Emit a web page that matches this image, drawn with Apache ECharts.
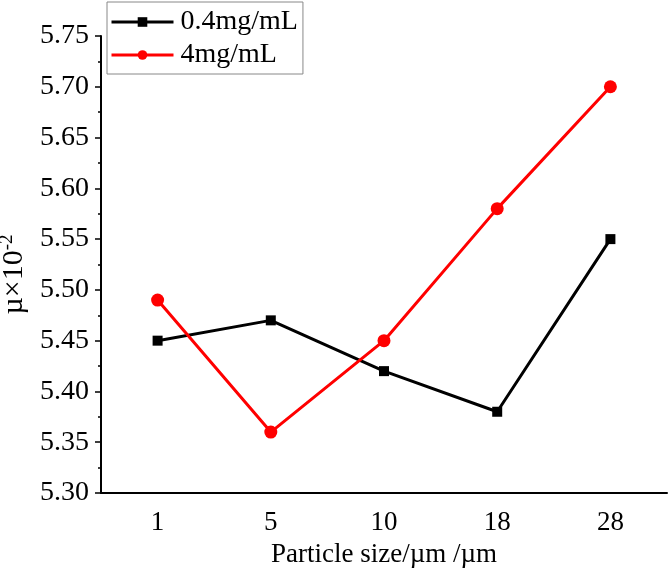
<!DOCTYPE html>
<html>
<head>
<meta charset="utf-8">
<script src="https://cdn.jsdelivr.net/npm/echarts@6/dist/echarts.min.js"></script>
<style>
  html, body { margin: 0; padding: 0; background: #fff; }
  #chart { width: 670px; height: 570px; }
</style>
</head>
<body>
<div id="chart"></div>
<script>
const sizes = ["1", "5", "10", "18", "28"];
const low = [5.45, 5.47, 5.42, 5.38, 5.55];   // 0.4mg/mL
const high = [5.49, 5.36, 5.45, 5.58, 5.70];  // 4mg/mL
const yTicks = [5.30, 5.35, 5.40, 5.45, 5.50, 5.55, 5.60, 5.65, 5.70, 5.75];

const font = '"Times New Roman", "Liberation Serif", serif';
const chart = echarts.init(document.getElementById("chart"));

chart.setOption({
  animation: false,
  grid: { left: 101, right: 3, top: 36, bottom: 77, outerBoundsMode: "none", containLabel: false },
  legend: {
    left: 107,
    top: 2,
    orient: "vertical",
    padding: [6, 5, 5, 3],
    itemGap: 5,
    itemWidth: 62,
    itemHeight: 12,
    borderColor: "#888",
    borderWidth: 1,
    lineStyle: { width: 3 },
    textStyle: { fontFamily: font, fontSize: 28, color: "#000", lineHeight: 28, padding: [0, 0, 0, 2] },
    data: ["0.4mg/mL", "4mg/mL"]
  },
  xAxis: [
    {
      type: "category",
      data: sizes,
      boundaryGap: true,
      name: "Particle size/µm /µm",
      nameLocation: "middle",
      nameGap: 48,
      nameTextStyle: { fontFamily: font, fontSize: 27, color: "#000" },
      axisLine: { lineStyle: { color: "#000", width: 2 } },
      axisTick: { alignWithLabel: true, length: 8, lineStyle: { color: "#000", width: 1.5 } },
      axisLabel: { fontFamily: font, fontSize: 27, color: "#000", margin: 16 },
      splitLine: { show: false }
    },
    {
      type: "category",
      data: sizes,
      boundaryGap: true,
      position: "bottom",
      axisLine: { show: false },
      axisTick: { length: 4, lineStyle: { color: "#000", width: 1.5 } },
      axisLabel: { show: false },
      splitLine: { show: false }
    }
  ],
  yAxis: {
    type: "value",
    min: yTicks[0],
    max: yTicks[yTicks.length - 1],
    interval: 0.05,
    name: "{a|µ×10}{s|-2}",
    nameLocation: "middle",
    nameGap: 55,
    nameTextStyle: {
      fontFamily: font, color: "#000", padding: [0, 20, 0, 0],
      rich: {
        a: { fontFamily: font, fontSize: 30, color: "#000" },
        s: { fontFamily: font, fontSize: 19, color: "#000", padding: [0, 0, 14, 0] }
      }
    },
    axisLine: { show: true, lineStyle: { color: "#000", width: 2 } },
    axisTick: { show: true, length: 6, lineStyle: { color: "#000", width: 1.5 } },
    minorTick: { show: true, splitNumber: 2, length: 3, lineStyle: { color: "#000", width: 1.5 } },
    axisLabel: {
      fontFamily: font, fontSize: 28, color: "#000", margin: 12,
      formatter: v => v.toFixed(2)
    },
    splitLine: { show: false }
  },
  series: [
    {
      name: "0.4mg/mL",
      type: "line",
      data: low,
      symbol: "rect",
      symbolSize: 10,
      itemStyle: { color: "#000" },
      lineStyle: { color: "#000", width: 3 }
    },
    {
      name: "4mg/mL",
      type: "line",
      data: high,
      symbol: "circle",
      symbolSize: 13,
      itemStyle: { color: "#ff0000" },
      lineStyle: { color: "#ff0000", width: 3 }
    }
  ]
});
</script>
</body>
</html>
